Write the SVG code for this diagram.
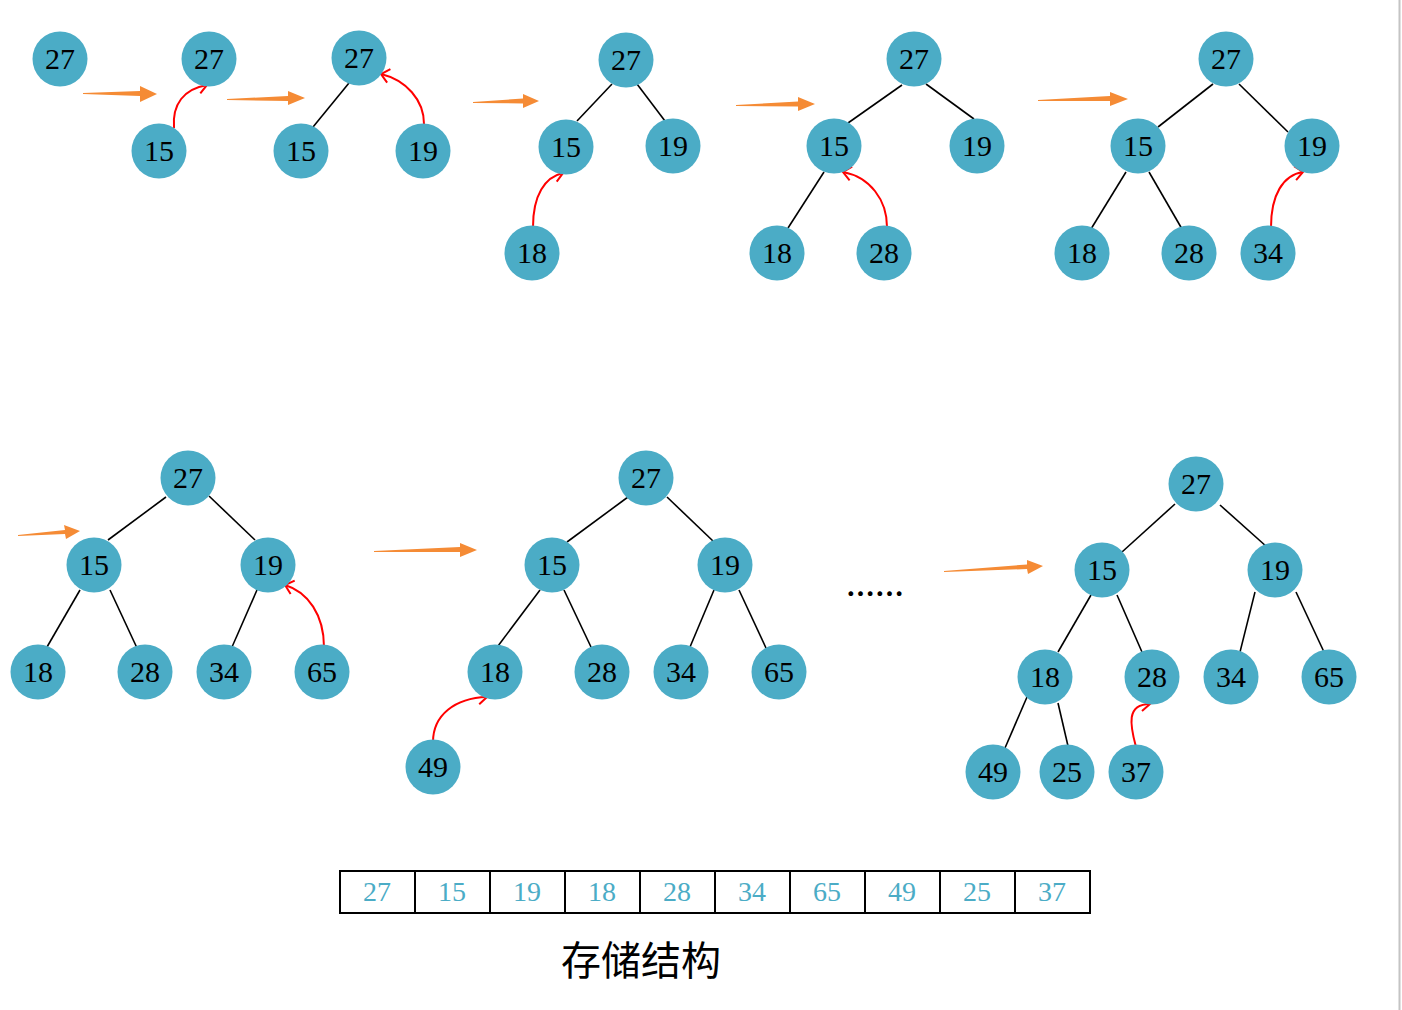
<svg xmlns="http://www.w3.org/2000/svg" width="1402" height="1010" viewBox="0 0 1402 1010">
<style>
.n circle{fill:#4BACC6}
.n text{font-family:"Liberation Serif",serif;font-size:30px;fill:#000;text-anchor:middle}
.e line{stroke:#000;stroke-width:1.6}
.r{fill:none;stroke:#ff0000;stroke-width:2;marker-end:url(#ah)}
.o{fill:#F58B35}
.cell{fill:#fff;stroke:#000;stroke-width:2}
.ct{font-family:"Liberation Serif",serif;font-size:28px;fill:#4BACC6;text-anchor:middle}
</style>
<defs>
<marker id="ah" markerUnits="userSpaceOnUse" markerWidth="24" markerHeight="24" viewBox="-12 -12 24 24" refX="0" refY="0" orient="auto">
<path d="M-8,-7 L0,0 L-8,7" fill="none" stroke="#ff0000" stroke-width="2"/>
</marker>
</defs>
<rect x="0" y="0" width="1402" height="1010" fill="#fff"/>
<line x1="1399.5" y1="0" x2="1399.5" y2="1010" stroke="#c4c4c4" stroke-width="2"/>
<g id="connectors">
<g class="e">
<line x1="349" y1="83" x2="313" y2="127"/>
<line x1="612" y1="84" x2="577" y2="121"/><line x1="637" y1="84" x2="665" y2="121"/>
<line x1="902" y1="85" x2="848" y2="123"/><line x1="926" y1="84" x2="974" y2="119"/><line x1="824" y1="172" x2="788" y2="228"/>
<line x1="1213" y1="84" x2="1158" y2="127"/><line x1="1239" y1="84" x2="1288" y2="132"/><line x1="1126" y1="172" x2="1091" y2="229"/><line x1="1149" y1="172" x2="1182" y2="229"/>
<line x1="166" y1="497" x2="108" y2="540"/><line x1="209" y1="496" x2="255" y2="540"/><line x1="80" y1="590" x2="47" y2="647"/><line x1="110" y1="590" x2="137" y2="648"/><line x1="257" y1="590" x2="232" y2="647"/>
<line x1="628" y1="497" x2="567" y2="542"/><line x1="667" y1="497" x2="713" y2="541"/><line x1="540" y1="590" x2="498" y2="646"/><line x1="564" y1="590" x2="591" y2="647"/><line x1="714" y1="590" x2="690" y2="647"/><line x1="739" y1="590" x2="766" y2="648"/>
<line x1="1175" y1="504" x2="1122" y2="552"/><line x1="1220" y1="505" x2="1267" y2="547"/><line x1="1091" y1="595" x2="1058" y2="652"/><line x1="1117" y1="595" x2="1142" y2="652"/><line x1="1255" y1="592" x2="1240" y2="652"/><line x1="1296" y1="592" x2="1324" y2="652"/><line x1="1027" y1="697" x2="1005" y2="748"/><line x1="1058" y1="703" x2="1068" y2="746"/>
</g>
<g id="orange-arrows">
<polygon class="o" points="83,93 140,91 140,86 157,94 140,102 140,96 83,94"/>
<polygon class="o" points="227,99 288,96 288,91 305,98 288,105 288,101 227,100"/>
<polygon class="o" points="473,102 523,98.5 523,94 539,101 523,108 523,103.5 473,103"/>
<polygon class="o" points="736,105 798,101.5 798,97 815,104 798,111 798,106.5 736,106"/>
<polygon class="o" points="1038,100 1110,96 1110,92 1128,99 1110,106 1110,101 1038,101"/>
<polygon class="o" points="18,535 65,530 64,525 80,531 66,539 65,534 18,536"/>
<polygon class="o" points="374,551 460,547 460,543 477,550 460,557 460,552 374,552"/>
<polygon class="o" points="944,571 1027,564.5 1027,560 1043,566 1028,574 1027,569 944,572"/>
</g>
<g id="red-arrows">
<path class="r" d="M174,128 C172,104 184,89 207,85"/>
<path class="r" d="M424,124 C424,100 406,80 381,74"/>
<path class="r" d="M533,227 C533,195 545,177 563,173"/>
<path class="r" d="M887,227 C887,200 870,177 843,172"/>
<path class="r" d="M1271,227 C1271,195 1283,175 1303,172"/>
<path class="r" d="M324,647 C324,615 308,592 285,585"/>
<path class="r" d="M433,742 C433,715 455,698 487,697"/>
<path class="r" d="M1136,747 C1130,725 1126,704 1150,704"/>
</g>
</g>
<g id="nodes">
<g class="n" id="a1"><circle cx="60" cy="59" r="27.5"/><text x="60" y="69">27</text></g>
<g class="n" id="b1"><circle cx="209" cy="59" r="27.5"/><text x="209" y="69">27</text></g>
<g class="n" id="b2"><circle cx="159" cy="151" r="27.5"/><text x="159" y="161">15</text></g>
<g class="n" id="c1"><circle cx="359" cy="58" r="27.5"/><text x="359" y="68">27</text></g>
<g class="n" id="c2"><circle cx="301" cy="151" r="27.5"/><text x="301" y="161">15</text></g>
<g class="n" id="c3"><circle cx="423" cy="151" r="27.5"/><text x="423" y="161">19</text></g>
<g class="n" id="d1"><circle cx="626" cy="60" r="27.5"/><text x="626" y="70">27</text></g>
<g class="n" id="d2"><circle cx="566" cy="147" r="27.5"/><text x="566" y="157">15</text></g>
<g class="n" id="d3"><circle cx="673" cy="146" r="27.5"/><text x="673" y="156">19</text></g>
<g class="n" id="d4"><circle cx="532" cy="253" r="27.5"/><text x="532" y="263">18</text></g>
<g class="n" id="e1"><circle cx="914" cy="59" r="27.5"/><text x="914" y="69">27</text></g>
<g class="n" id="e2"><circle cx="834" cy="146" r="27.5"/><text x="834" y="156">15</text></g>
<g class="n" id="e3"><circle cx="977" cy="146" r="27.5"/><text x="977" y="156">19</text></g>
<g class="n" id="e4"><circle cx="777" cy="253" r="27.5"/><text x="777" y="263">18</text></g>
<g class="n" id="e5"><circle cx="884" cy="253" r="27.5"/><text x="884" y="263">28</text></g>
<g class="n" id="f1"><circle cx="1226" cy="59" r="27.5"/><text x="1226" y="69">27</text></g>
<g class="n" id="f2"><circle cx="1138" cy="146" r="27.5"/><text x="1138" y="156">15</text></g>
<g class="n" id="f3"><circle cx="1312" cy="146" r="27.5"/><text x="1312" y="156">19</text></g>
<g class="n" id="f4"><circle cx="1082" cy="253" r="27.5"/><text x="1082" y="263">18</text></g>
<g class="n" id="f5"><circle cx="1189" cy="253" r="27.5"/><text x="1189" y="263">28</text></g>
<g class="n" id="f6"><circle cx="1268" cy="253" r="27.5"/><text x="1268" y="263">34</text></g>
<g class="n" id="g1"><circle cx="188" cy="478" r="27.5"/><text x="188" y="488">27</text></g>
<g class="n" id="g2"><circle cx="94" cy="565" r="27.5"/><text x="94" y="575">15</text></g>
<g class="n" id="g3"><circle cx="268" cy="565" r="27.5"/><text x="268" y="575">19</text></g>
<g class="n" id="g4"><circle cx="38" cy="672" r="27.5"/><text x="38" y="682">18</text></g>
<g class="n" id="g5"><circle cx="145" cy="672" r="27.5"/><text x="145" y="682">28</text></g>
<g class="n" id="g6"><circle cx="224" cy="672" r="27.5"/><text x="224" y="682">34</text></g>
<g class="n" id="g7"><circle cx="322" cy="672" r="27.5"/><text x="322" y="682">65</text></g>
<g class="n" id="h1"><circle cx="646" cy="478" r="27.5"/><text x="646" y="488">27</text></g>
<g class="n" id="h2"><circle cx="552" cy="565" r="27.5"/><text x="552" y="575">15</text></g>
<g class="n" id="h3"><circle cx="725" cy="565" r="27.5"/><text x="725" y="575">19</text></g>
<g class="n" id="h4"><circle cx="495" cy="672" r="27.5"/><text x="495" y="682">18</text></g>
<g class="n" id="h5"><circle cx="602" cy="672" r="27.5"/><text x="602" y="682">28</text></g>
<g class="n" id="h6"><circle cx="681" cy="672" r="27.5"/><text x="681" y="682">34</text></g>
<g class="n" id="h7"><circle cx="779" cy="672" r="27.5"/><text x="779" y="682">65</text></g>
<g class="n" id="h8"><circle cx="433" cy="767" r="27.5"/><text x="433" y="777">49</text></g>
<g class="n" id="i1"><circle cx="1196" cy="484" r="27.5"/><text x="1196" y="494">27</text></g>
<g class="n" id="i2"><circle cx="1102" cy="570" r="27.5"/><text x="1102" y="580">15</text></g>
<g class="n" id="i3"><circle cx="1275" cy="570" r="27.5"/><text x="1275" y="580">19</text></g>
<g class="n" id="i4"><circle cx="1045" cy="677" r="27.5"/><text x="1045" y="687">18</text></g>
<g class="n" id="i5"><circle cx="1152" cy="677" r="27.5"/><text x="1152" y="687">28</text></g>
<g class="n" id="i6"><circle cx="1231" cy="677" r="27.5"/><text x="1231" y="687">34</text></g>
<g class="n" id="i7"><circle cx="1329" cy="677" r="27.5"/><text x="1329" y="687">65</text></g>
<g class="n" id="i8"><circle cx="993" cy="772" r="27.5"/><text x="993" y="782">49</text></g>
<g class="n" id="i9"><circle cx="1067" cy="772" r="27.5"/><text x="1067" y="782">25</text></g>
<g class="n" id="i10"><circle cx="1136" cy="772" r="27.5"/><text x="1136" y="782">37</text></g>
</g>
<text x="875" y="605" font-family="'Noto Sans CJK SC',sans-serif" font-size="29" font-weight="bold" text-anchor="middle" fill="#000">……</text>
<g id="storage">
<rect class="cell" x="340" y="871" width="75" height="42"/>
<rect class="cell" x="415" y="871" width="75" height="42"/>
<rect class="cell" x="490" y="871" width="75" height="42"/>
<rect class="cell" x="565" y="871" width="75" height="42"/>
<rect class="cell" x="640" y="871" width="75" height="42"/>
<rect class="cell" x="715" y="871" width="75" height="42"/>
<rect class="cell" x="790" y="871" width="75" height="42"/>
<rect class="cell" x="865" y="871" width="75" height="42"/>
<rect class="cell" x="940" y="871" width="75" height="42"/>
<rect class="cell" x="1015" y="871" width="75" height="42"/>
<text class="ct" x="377" y="901">27</text>
<text class="ct" x="452" y="901">15</text>
<text class="ct" x="527" y="901">19</text>
<text class="ct" x="602" y="901">18</text>
<text class="ct" x="677" y="901">28</text>
<text class="ct" x="752" y="901">34</text>
<text class="ct" x="827" y="901">65</text>
<text class="ct" x="902" y="901">49</text>
<text class="ct" x="977" y="901">25</text>
<text class="ct" x="1052" y="901">37</text>
</g>
<text x="641" y="975" font-family="'Noto Sans CJK SC',sans-serif" font-size="40" text-anchor="middle" fill="#000">存储结构</text>
</svg>
